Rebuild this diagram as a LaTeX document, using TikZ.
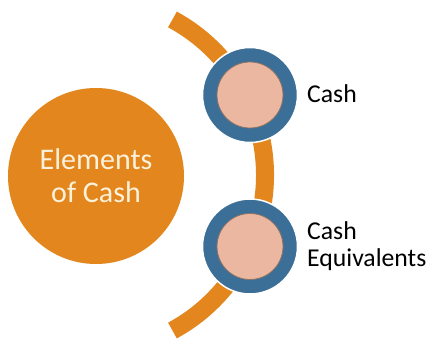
\documentclass[tikz,border=0pt]{standalone}
\usepackage{fontspec}
\setmainfont{Carlito}

\definecolor{cashorange}{RGB}{227,134,29}
\definecolor{ringblue}{RGB}{59,111,152}
\definecolor{corepink}{RGB}{236,183,160}
\definecolor{coreedge}{RGB}{140,115,100}
\definecolor{cream}{RGB}{252,241,218}

\begin{document}
\begin{tikzpicture}[x=1pt,y=-1pt,
    ring/.style={circle,fill=ringblue,draw=white,line width=1.5pt,minimum size=95pt,inner sep=0pt},
    core/.style={circle,fill=corepink,draw=coreedge,line width=0.8pt,minimum size=66pt,inner sep=0pt},
    itemtext/.style={anchor=base west,inner sep=0pt,align=left,font=\fontsize{25.7}{27}\selectfont}]
        \useasboundingbox[fill=white] (0,0) rectangle (432,339);

        % the orange bow behind the two items
        \coordinate (hub) at (88,175);
        \draw[cashorange,line width=18pt] (hub) ++(-61.5:177) arc[start angle=-61.5,end angle=61.5,radius=177];

        \node[circle,fill=cashorange,minimum size=176pt,inner sep=0pt,align=center,text=cream,
            font=\fontsize{30}{33.3}\selectfont] (elements) at (96,176) {Elements\\of Cash};

        \node[ring] (cashring) at (250,95) {};
        \node[core] (cashcore) at (cashring) {};
        \node[ring] (equivring) at (250,246.5) {};
        \node[core] (equivcore) at (equivring) {};

        % base anchor sits on the last line
        \node[itemtext] (cash) at (307,102.7) {Cash};
        \node[itemtext] (equiv) at (307,267) {Cash\\Equivalents};
    \end{tikzpicture}
\end{document}
